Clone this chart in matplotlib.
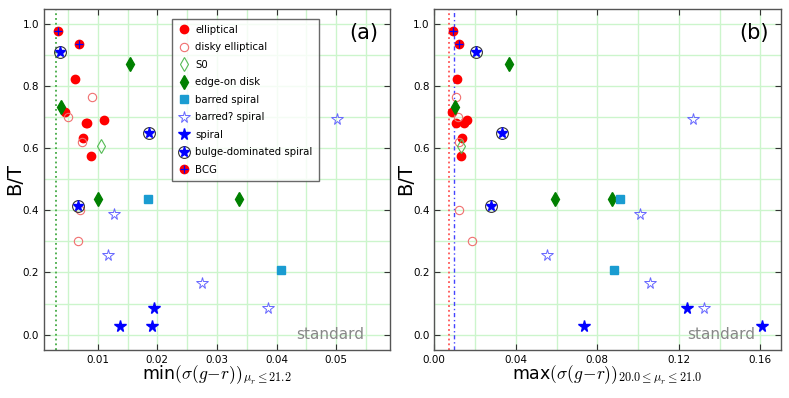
import matplotlib
matplotlib.use("Agg")
import matplotlib.pyplot as plt
from matplotlib.lines import Line2D
from matplotlib.ticker import MultipleLocator

plt.rcParams['mathtext.fontset'] = 'cm'
plt.rcParams['font.family'] = ['DejaVu Sans']

# ---------------- data ----------------
# B/T values per category
ell_bt = [0.823, 0.718, 0.682, 0.682, 0.691, 0.634, 0.576]
ell_xa = [0.0062, 0.0045, 0.0081, 0.0082, 0.0110, 0.0076, 0.0088]
ell_xb = [0.0111, 0.0085, 0.0105, 0.0146, 0.0162, 0.0136, 0.0133]

dell_bt = [0.767, 0.700, 0.620, 0.401, 0.303]
dell_xa = [0.0090, 0.0050, 0.0073, 0.0070, 0.0067]
dell_xb = [0.0108, 0.0118, 0.0123, 0.0119, 0.0185]

s0_bt = [0.607]
s0_xa = [0.0105]
s0_xb = [0.0129]

edge_bt = [0.872, 0.734, 0.437, 0.437]
edge_xa = [0.0154, 0.0039, 0.0100, 0.0337]
edge_xb = [0.0366, 0.0103, 0.0593, 0.0871]

bar_bt = [0.437, 0.208]
bar_xa = [0.0184, 0.0408]
bar_xb = [0.0910, 0.0881]

barq_bt = [0.694, 0.390, 0.256, 0.165, 0.085]
barq_xa = [0.0501, 0.0127, 0.0117, 0.0274, 0.0386]
barq_xb = [0.1268, 0.1008, 0.0551, 0.1061, 0.1325]

sp_bt = [0.086, 0.029, 0.026]
sp_xa = [0.0194, 0.0137, 0.0191]
sp_xb = [0.1242, 0.0734, 0.1610]

bds_bt = [0.911, 0.650, 0.416]
bds_xa = [0.0036, 0.0186, 0.0067]
bds_xb = [0.0204, 0.0330, 0.0280]

bcg_bt = [0.980, 0.937]
bcg_xa = [0.0033, 0.0068]
bcg_xb = [0.0093, 0.0123]

green_line_a = 0.0030
red_line_b = 0.0072
blue_line_b = 0.0098

labels = ['elliptical', 'disky elliptical', 'S0', 'edge-on disk', 'barred spiral',
          'barred? spiral', 'spiral', 'bulge-dominated spiral', 'BCG']

# ---------------- styles ----------------
BAR_C = '#1a9cd1'
DISKY_C = '#f07070'
S0_C = '#55bb55'
BARQ_C = '#6666ff'
GRID_C = '#ccf5cc'

MS_O = 6.0
MS_D = 7.5
MS_S = 5.5
MS_STAR = 8.5
MS_RING = 8.5

fig = plt.figure(figsize=(7.89, 3.98), dpi=100)
axa = fig.add_axes([0.0558, 0.1206, 0.4385, 0.8568])
axb = fig.add_axes([0.5504, 0.1206, 0.4391, 0.8568])


def draw(ax, xs):
    (xe, xd, xs0, xed, xbar, xbq, xsp, xbd, xbcg) = xs
    ax.plot(xe, ell_bt, 'o', ms=MS_O, mfc='red', mec='red', ls='none', zorder=5)
    ax.plot(xd, dell_bt, 'o', ms=MS_O, mfc='none', mec=DISKY_C, mew=0.8, ls='none', zorder=5)
    ax.plot(xs0, s0_bt, 'd', ms=MS_D, mfc='none', mec=S0_C, mew=0.8, ls='none', zorder=5)
    ax.plot(xed, edge_bt, 'd', ms=MS_D, mfc='green', mec='green', ls='none', zorder=5)
    ax.plot(xbar, bar_bt, 's', ms=MS_S, mfc=BAR_C, mec=BAR_C, ls='none', zorder=5)
    ax.plot(xbq, barq_bt, '*', ms=MS_STAR, mfc='none', mec=BARQ_C, mew=0.7, ls='none', zorder=5)
    ax.plot(xsp, sp_bt, '*', ms=MS_STAR, mfc='blue', mec='blue', ls='none', zorder=5)
    ax.plot(xbd, bds_bt, 'o', ms=MS_RING, mfc='none', mec='#333333', mew=0.8, ls='none', zorder=5)
    ax.plot(xbd, bds_bt, '*', ms=MS_STAR - 0.5, mfc='blue', mec='blue', ls='none', zorder=6)
    ax.plot(xbcg, bcg_bt, 'o', ms=MS_O, mfc='red', mec='red', ls='none', zorder=5)
    ax.plot(xbcg, bcg_bt, '+', ms=MS_O, mec='blue', mew=0.9, ls='none', zorder=6)
    ax.set_ylim(-0.05, 1.05)
    ax.yaxis.set_major_locator(MultipleLocator(0.2))
    ax.yaxis.set_minor_locator(MultipleLocator(0.1))
    ax.grid(True, which='both', color=GRID_C, lw=1.0, zorder=0)
    ax.set_axisbelow(True)
    ax.tick_params(which='major', direction='in', top=True, right=True, length=4,
                   labelsize=7.5, color='#333333')
    ax.tick_params(which='minor', length=0, top=True, right=True)
    for s in ax.spines.values():
        s.set_color('#555555')
        s.set_linewidth(1.0)
    ax.set_ylabel('B/T', fontsize=14)
    ax.text(0.925, 0.022, 'standard', transform=ax.transAxes, ha='right', va='bottom',
            fontsize=11, color='#888888')


draw(axa, (ell_xa, dell_xa, s0_xa, edge_xa, bar_xa, barq_xa, sp_xa, bds_xa, bcg_xa))
draw(axb, (ell_xb, dell_xb, s0_xb, edge_xb, bar_xb, barq_xb, sp_xb, bds_xb, bcg_xb))

axa.yaxis.set_label_coords(-0.058, 0.5)
axb.yaxis.set_label_coords(-0.056, 0.5)

axa.set_xlim(0.001, 0.059)
axa.xaxis.set_major_locator(MultipleLocator(0.01))
axa.xaxis.set_minor_locator(MultipleLocator(0.005))
axa.axvline(green_line_a, color='#44aa44', ls=':', lw=1.3, zorder=1)
axa.set_xlabel(r'min$(\sigma(g\!-\!r))_{\mu_r\leq21.2}$', fontsize=12.5, labelpad=-1)
axa.text(0.965, 0.93, '(a)', transform=axa.transAxes, ha='right', va='center', fontsize=15)

axb.set_xlim(0.0, 0.17)
axb.xaxis.set_major_locator(MultipleLocator(0.04))
axb.xaxis.set_minor_locator(MultipleLocator(0.02))
axb.axvline(red_line_b, color='#ff5555', ls=':', lw=1.3, zorder=1)
axb.axvline(blue_line_b, color='#4444ff', ls=(0, (3, 2, 1, 2)), lw=1.0, zorder=1)
axb.set_xlabel(r'max$(\sigma(g\!-\!r))_{20.0\leq\mu_r\leq21.0}$', fontsize=12.5, labelpad=-1)
axb.text(0.965, 0.93, '(b)', transform=axb.transAxes, ha='right', va='center', fontsize=15)

# legend
handles = [
    Line2D([], [], marker='o', ls='none', ms=MS_O, mfc='red', mec='red'),
    Line2D([], [], marker='o', ls='none', ms=MS_O, mfc='none', mec=DISKY_C, mew=0.8),
    Line2D([], [], marker='d', ls='none', ms=MS_D, mfc='none', mec=S0_C, mew=0.8),
    Line2D([], [], marker='d', ls='none', ms=MS_D, mfc='green', mec='green'),
    Line2D([], [], marker='s', ls='none', ms=MS_S, mfc=BAR_C, mec=BAR_C),
    Line2D([], [], marker='*', ls='none', ms=MS_STAR, mfc='none', mec=BARQ_C, mew=0.7),
    Line2D([], [], marker='*', ls='none', ms=MS_STAR, mfc='blue', mec='blue'),
    (Line2D([], [], marker='o', ls='none', ms=MS_RING, mfc='none', mec='#333333', mew=0.8),
     Line2D([], [], marker='*', ls='none', ms=MS_STAR - 0.5, mfc='blue', mec='blue')),
    (Line2D([], [], marker='o', ls='none', ms=MS_O, mfc='red', mec='red'),
     Line2D([], [], marker='+', ls='none', ms=MS_O, mec='blue', mew=0.9)),
]
leg = axa.legend(handles, labels, loc='upper left', bbox_to_anchor=(0.37, 0.971),
                 fontsize=7.3, frameon=True, fancybox=False, handlelength=1.2,
                 handletextpad=0.5, borderpad=0.6, labelspacing=0.74, numpoints=1,
                 borderaxespad=0)
leg.get_frame().set_edgecolor('#444444')
leg.get_frame().set_linewidth(1.0)
leg.set_zorder(10)

fig.savefig('out.png', dpi=100)
